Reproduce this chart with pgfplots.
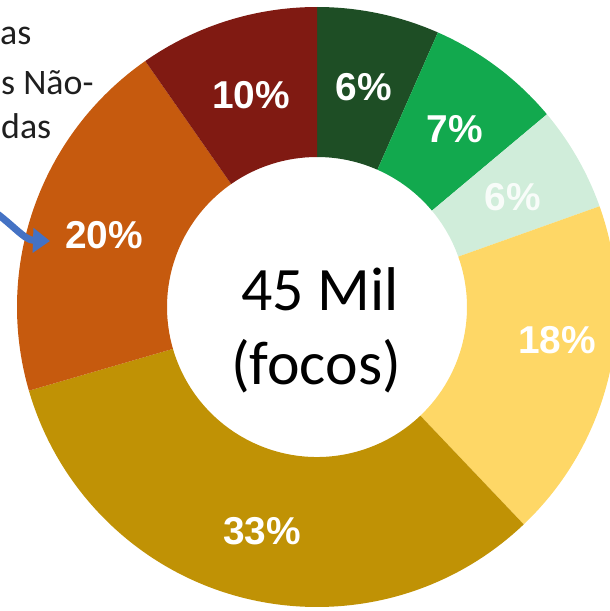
\documentclass[border=0pt]{standalone}
\usepackage{pgfplots}
\pgfplotsset{compat=1.18}
\usepackage{pgfplotstable}
\usetikzlibrary{calc,arrows.meta}
\usepackage{fontspec}
\setmainfont{Carlito}
\newfontfamily\labfont{Liberation Sans}

\definecolor{cDkGreen}{HTML}{1E4E25}
\definecolor{cGreen}{HTML}{12A94E}
\definecolor{cLtGreen}{HTML}{D0EDDA}
\definecolor{cYellow}{HTML}{FED766}
\definecolor{cGold}{HTML}{C09205}
\definecolor{cOrange}{HTML}{C65A0E}
\definecolor{cDkRed}{HTML}{801A12}
\definecolor{cArrow}{HTML}{4472C4}
\definecolor{cText}{HTML}{1F1F1F}

\tikzset{lab/.style={font=\labfont\bfseries\fontsize{39}{39}\selectfont, text=white, inner sep=0pt}}

% share of each slice (percent), clockwise from 12 o'clock
\pgfplotstableread{
start share label
0      6.6   6
6.6    7.3   7
13.9   5.65  6
19.55  18.35 18
37.9   32.6  33
70.5   19.8  20
90.3   9.7   10
}\slices

% #1 start (%), #2 share (%), #3 colour ; centre (317,307), radii 300/150
\newcommand{\slice}[3]{%
  \fill[#3] ($(axis cs:317,307)+({90-3.6*(#1)}:300bp)$)
    arc[start angle={90-3.6*(#1)}, end angle={90-3.6*(#1+#2)}, radius=300bp]
    -- ($(axis cs:317,307)+({90-3.6*(#1+#2)}:150bp)$)
    arc[start angle={90-3.6*(#1+#2)}, end angle={90-3.6*(#1)}, radius=150bp]
    -- cycle;%
}

\begin{document}
\begin{tikzpicture}
\begin{axis}[
  at={(0,0)}, anchor=south west,
  scale only axis, width=610bp, height=611bp,
  xmin=0, xmax=610, ymin=0, ymax=611, y dir=reverse,
  hide axis, clip=false,
]
\slice{0}{6.6}{cDkGreen}
\slice{6.6}{7.3}{cGreen}
\slice{13.9}{5.65}{cLtGreen}
\slice{19.55}{18.35}{cYellow}
\slice{37.9}{32.6}{cGold}
\slice{70.5}{19.8}{cOrange}
\slice{90.3}{9.7}{cDkRed}

\node[lab] at (axis cs:364,87) {6\%};
\node[lab] at (axis cs:455,129) {7\%};
\node[lab, text=white!85!cLtGreen] at (axis cs:513,197) {6\%};
\node[lab] at (axis cs:557,340) {18\%};
\node[lab] at (axis cs:262,531) {33\%};
\node[lab] at (axis cs:104,235) {20\%};
\node[lab] at (axis cs:251,95) {10\%};

\node[font=\fontsize{62}{62}\selectfont, text=black, anchor=base, inner sep=0pt] at (axis cs:320,310) {45 Mil};
\node[font=\fontsize{62}{62}\selectfont, text=black, anchor=base, inner sep=0pt] at (axis cs:316,384) {(focos)};

\node[font=\fontsize{36}{36}\selectfont, text=cText, anchor=base west, inner sep=0pt] at (axis cs:0,45) {as};
\node[font=\fontsize{36}{36}\selectfont, text=cText, anchor=base west, inner sep=0pt] at (axis cs:1,94) {s Não-};
\node[font=\fontsize{36}{36}\selectfont, text=cText, anchor=base west, inner sep=0pt] at (axis cs:1,138) {das};

\draw[cArrow, line width=7bp, -{Triangle[length=17bp, width=24bp]}]
  (axis cs:-8,210) to[out=-35, in=178] (axis cs:50,241);
\end{axis}
\pgfresetboundingbox
\useasboundingbox (0,0) rectangle (610bp,611bp);
\end{tikzpicture}
\end{document}
